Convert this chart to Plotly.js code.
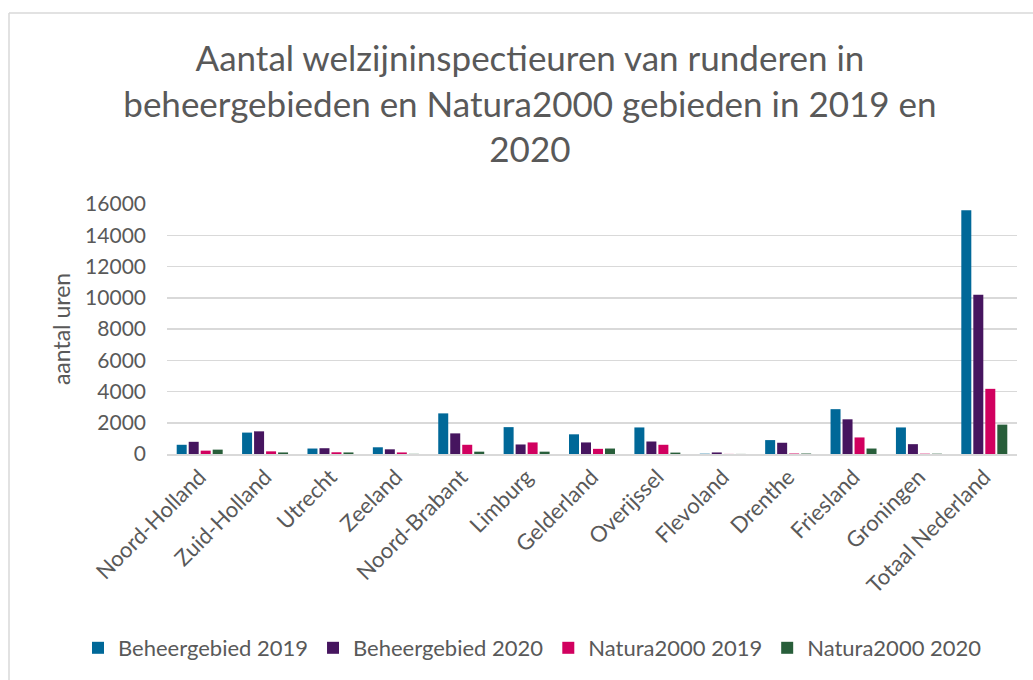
<!DOCTYPE html>
<html>
<head>
<meta charset="utf-8">
<script src="https://cdn.plot.ly/plotly-3.0.1.min.js"></script>
<style>html,body{margin:0;padding:0;background:#fff;}#chart{width:1033px;height:680px;}</style>
</head>
<body>
<div id="chart"></div>
<script>
var categories = ["Noord-Holland","Zuid-Holland","Utrecht","Zeeland","Noord-Brabant","Limburg","Gelderland","Overijssel","Flevoland","Drenthe","Friesland","Groningen","Totaal Nederland"];
var beheer2019 = [590,1370,350,430,2600,1720,1260,1700,20,890,2870,1700,15600];
var beheer2020 = [780,1450,370,300,1320,610,740,800,100,720,2220,630,10200];
var natura2019 = [215,170,110,100,590,740,330,590,5,30,1060,20,4170];
var natura2020 = [280,100,100,10,150,150,350,90,5,30,350,20,1880];
var seriesNames = ["Beheergebied 2019","Beheergebied 2020","Natura2000 2019","Natura2000 2020"];
var yTicks = [0,2000,4000,6000,8000,10000,12000,14000,16000];

var colors = ["#006898","#46155F","#D1005F","#285E3A"];
var seriesValues = [beheer2019, beheer2020, natura2019, natura2020];
var FONT = "Lato, 'Liberation Sans', sans-serif";
var GREY = "#595959";

var traces = seriesValues.map(function(vals, i){
  return {type:"bar", name: seriesNames[i], x: categories, y: vals,
          marker:{color: colors[i]}};
});

var L = 167, R = 1017, T = 204, B = 454, W = 1033, H = 680;
function px(x){ return (x - L)/(R - L); }
function py(y){ return (B - y)/(B - T); }

var layout = {
  width: W, height: H,
  margin:{l:L, r:W-R, t:T, b:H-B, pad:0, autoexpand:false},
  paper_bgcolor:"#ffffff", plot_bgcolor:"#ffffff",
  font:{family: FONT, color: GREY},
  title:{text:"Aantal welzijninspectieuren van runderen in<br>beheergebieden en Natura2000 gebieden in 2019 en<br>2020",
         font:{size:35, color:GREY, family:FONT},
         x:0.513, xanchor:"center", xref:"container",
         y:1-71/H, yanchor:"top", yref:"container"},
  barmode:"group", bargap:0.266, bargroupgap:0.167,
  xaxis:{type:"category", tickangle:-45, tickfont:{size:22, color:GREY},
         showgrid:false, showline:true, linecolor:"#D9D9D9", linewidth:1.5,
         ticks:"", automargin:false},
  yaxis:{range:[0,16000], tickvals:yTicks, ticktext:yTicks.map(String),
         tickfont:{size:21, color:GREY}, showgrid:true, gridcolor:"#D9D9D9", gridwidth:1.5,
         zeroline:false, showline:false, ticks:"", ticklen:0, ticklabelstandoff:20, automargin:false,
         title:{text:"aantal uren", font:{size:23, color:GREY}, standoff:8}},
  legend:{orientation:"h", x:px(78), xanchor:"left", y:py(648), yanchor:"middle",
          font:{size:22, color:GREY}, itemwidth:30, tracegroupgap:0, traceorder:"normal"},
  shapes:[
    {type:"line", xref:"paper", yref:"paper", x0:px(9), x1:px(1040), y0:py(13), y1:py(13),
     line:{color:"#D9D9D9", width:1.5}},
    {type:"line", xref:"paper", yref:"paper", x0:px(9), x1:px(9), y0:py(13), y1:py(690),
     line:{color:"#D9D9D9", width:1.5}}
  ]
};

Plotly.newPlot("chart", traces, layout, {displayModeBar:false, staticPlot:true});
</script>
</body>
</html>
